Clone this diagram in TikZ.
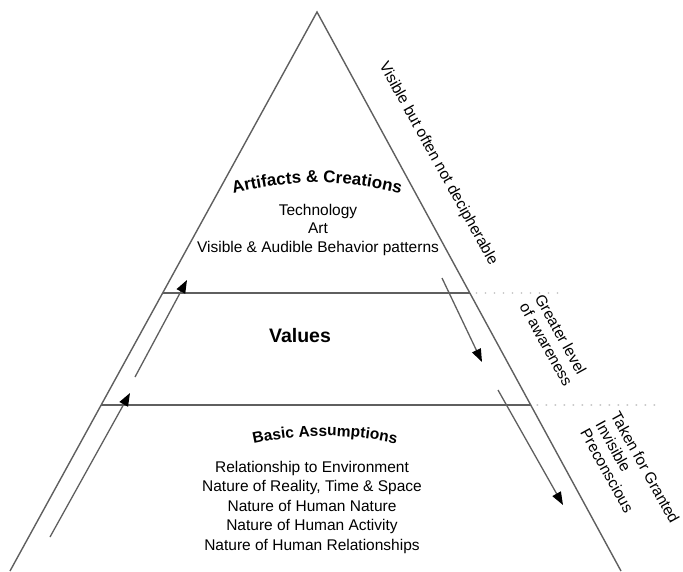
\documentclass[tikz,border=0pt]{standalone}
\usepackage{fontspec}
\setmainfont{Liberation Sans}
\usetikzlibrary{arrows.meta, calc, decorations.text}
\definecolor{EdgeGray}{RGB}{95, 95, 95}
\definecolor{DotGray}{RGB}{175, 175, 175}

\begin{document}
\begin{tikzpicture}[
    x=1pt, y=-1pt,
    edge/.style={draw=EdgeGray, line width=1.4pt},
    guide/.style={draw=DotGray, line width=1.3pt, dash pattern=on 1.3pt off 7.7pt},
    flow/.style={draw=EdgeGray, line width=1.3pt, -{Triangle[length=13pt, width=9.5pt, color=black]}},
    listtext/.style={align=center, inner sep=0pt, font=\fontsize{15.5}{18.5}\selectfont},
    sidetext/.style={align=left, inner sep=0pt, rotate=-61, font=\fontsize{15.5}{17.5}\selectfont},
    arctext/.style={decorate, decoration={text along path, text align=center, text={#1}}}
]
\useasboundingbox (0,0) rectangle (683,571);

% pyramid outline and layers
\coordinate (apex) at (317,12);
\coordinate (baseL) at (10,571);
\coordinate (baseR) at (621,571);
\coordinate (upL) at ($(apex)!0.5027!(baseL)$);
\coordinate (upR) at ($(apex)!0.5027!(baseR)$);
\coordinate (lowL) at ($(apex)!0.703!(baseL)$);
\coordinate (lowR) at ($(apex)!0.703!(baseR)$);
\coordinate (upEnd) at (560,293);
\coordinate (lowEnd) at (657,405);

\draw [edge] (baseL) -- (apex) -- (baseR);
\draw [edge] (upL) -- (upR);
\draw [edge] (lowL) -- (lowR);
\draw [guide] ($(upR)+(6,0)$) -- (upEnd);
\draw [guide] ($(lowR)+(6,0)$) -- (lowEnd);

% arrows
\coordinate (riseLow) at (50,537);
\coordinate (riseLowTip) at (130,393);
\coordinate (riseHigh) at (135,377);
\coordinate (riseHighTip) at (187,280);
\coordinate (sinkHigh) at (442,278);
\coordinate (sinkHighTip) at (482,362);
\coordinate (sinkLow) at (498,390);
\coordinate (sinkLowTip) at (563,505);

\draw [flow] (riseLow) -- (riseLowTip);
\draw [flow] (riseHigh) -- (riseHighTip);
\draw [flow] (sinkHigh) -- (sinkHighTip);
\draw [flow] (sinkLow) -- (sinkLowTip);

% layer texts
\path [arctext={|\bfseries\fontsize{17}{20}\selectfont|Artifacts {\&} Creations}]
    (224,196) .. controls (290,178) and (346,178) .. (410,196);
\node [listtext] (artList) at (318,229.5) {Technology\\Art\\Visible \& Audible Behavior patterns};
\node [inner sep=0pt, font=\bfseries\fontsize{19.5}{22}\selectfont] (values) at (300,336) {Values};
\path [arctext={|\bfseries\fontsize{15.5}{18}\selectfont|Basic Assumptions}]
    (248,445) .. controls (300,433) and (350,433) .. (402,445);
\node [listtext, font=\fontsize{15.5}{19.5}\selectfont] (basicList) at (312,507) {Relationship to Environment\\Nature of Reality, Time \& Space\\Nature of Human Nature\\Nature of Human Activity\\Nature of Human Relationships};

% side labels
\node [sidetext] (visible) at (438,164) {Visible but often not decipherable};
\node [sidetext] (aware) at (554,340) {Greater level\\of awareness};
\node [sidetext] (granted) at (630,476) {Taken for Granted\\Invisible\\Preconscious};

\end{tikzpicture}
\end{document}
